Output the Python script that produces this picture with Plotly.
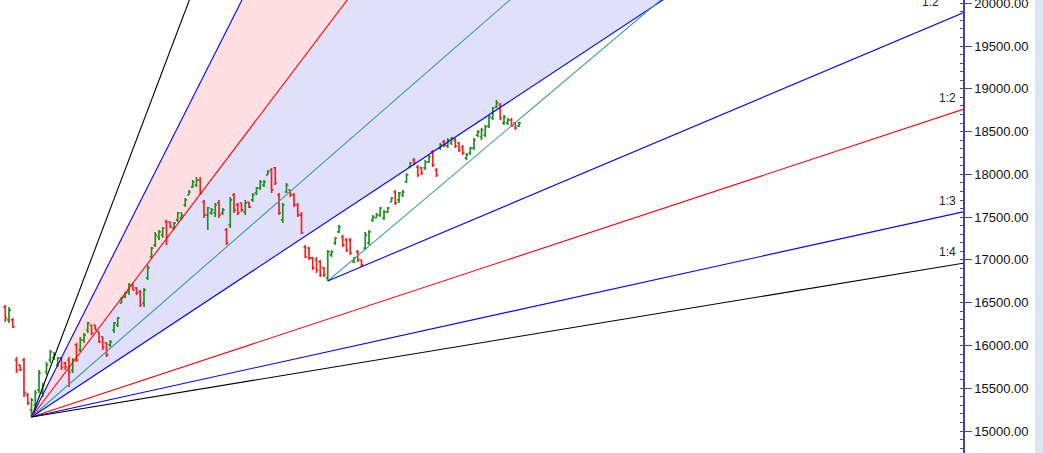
import plotly.graph_objects as go

# ---------------- OHLC data (daily bars, index = bar number) ----------------
bar_open = [16449, 16298, 16298, 15830, 15772, 15830, 15421, 15245, 15304, 15479,
            15444, 15690, 15830, 15854, 15772, 15854, 15795, 15830, 15713, 16006,
            15947, 16064, 16181, 16239, 16239, 16158, 16100, 16029, 16006, 16181,
            16239, 16496, 16567, 16625, 16707, 16672, 16625, 16496, 16789, 17034,
            17174, 17268, 17291, 17444, 17444, 17373, 17467, 17490, 17642, 17759,
            17853, 17876, 17934, 17677, 17525, 17549, 17549, 17666, 17549, 17350,
            17408, 17759, 17642, 17666, 17560, 17677, 17701, 17783, 17841, 17876,
            17993, 18051, 18075, 17759, 17467, 17794, 17818, 17759, 17642, 17525,
            17151, 17139, 17023, 16999, 16976, 16906, 16789, 17058, 17198, 17327,
            17268, 17233, 17233, 16976, 17093, 16999, 17139, 17198, 17467, 17490,
            17525, 17490, 17560, 17677, 17794, 17701, 17759, 17911, 18086, 18168,
            18086, 18075, 18075, 18145, 18262, 18051, 18308, 18379, 18332, 18367,
            18402, 18367, 18320, 18191, 18250, 18308, 18460, 18437, 18460, 18566,
            18659, 18788, 18811, 18601, 18601, 18636, 18601, 18566]
bar_high = [16473, 16449, 16321, 15865, 15772, 15854, 15444, 15386, 15479, 15713,
            15561, 15807, 15947, 15924, 15865, 15865, 15807, 15865, 15854, 16029,
            16100, 16146, 16274, 16239, 16239, 16158, 16100, 16041, 16064, 16274,
            16333, 16567, 16625, 16730, 16730, 16684, 16648, 16672, 16941, 17151,
            17327, 17350, 17385, 17467, 17444, 17444, 17560, 17560, 17724, 17818,
            17934, 17970, 17970, 17701, 17619, 17607, 17666, 17701, 17607, 17373,
            17736, 17783, 17666, 17666, 17701, 17677, 17783, 17853, 17934, 17934,
            18051, 18075, 18086, 17783, 17666, 17899, 17818, 17783, 17666, 17560,
            17174, 17151, 17034, 17034, 16999, 16917, 17116, 17116, 17268, 17408,
            17291, 17256, 17256, 17034, 17116, 16999, 17327, 17350, 17525, 17549,
            17619, 17584, 17619, 17736, 17818, 17794, 17818, 18016, 18145, 18191,
            18110, 18086, 18168, 18227, 18285, 18075, 18367, 18402, 18425, 18437,
            18425, 18379, 18344, 18250, 18320, 18425, 18519, 18542, 18577, 18694,
            18788, 18870, 18835, 18694, 18659, 18659, 18612, 18612]
bar_low = [16274, 16263, 16204, 15678, 15701, 15398, 15304, 15164, 15245, 15444,
           15398, 15655, 15795, 15830, 15748, 15713, 15713, 15515, 15678, 15807,
           15924, 16029, 16146, 16123, 16181, 16029, 15947, 15865, 15982, 16146,
           16216, 16496, 16555, 16590, 16648, 16590, 16449, 16449, 16765, 17023,
           17151, 17233, 17256, 17174, 17373, 17350, 17444, 17467, 17619, 17759,
           17841, 17853, 17759, 17490, 17350, 17525, 17502, 17490, 17525, 17174,
           17373, 17549, 17525, 17560, 17525, 17607, 17677, 17759, 17818, 17853,
           17993, 17783, 17876, 17525, 17432, 17783, 17736, 17619, 17502, 17303,
           17023, 16999, 16882, 16847, 16801, 16801, 16754, 17034, 17174, 17315,
           17151, 17093, 17058, 16964, 16976, 16917, 17116, 17174, 17444, 17490,
           17502, 17467, 17549, 17677, 17642, 17666, 17736, 17899, 18086, 18110,
           17970, 17993, 18051, 18133, 18086, 17970, 18285, 18320, 18308, 18344,
           18308, 18262, 18227, 18168, 18227, 18285, 18437, 18402, 18437, 18542,
           18636, 18776, 18636, 18577, 18577, 18554, 18519, 18554]
bar_close = [16321, 16414, 16216, 15713, 15713, 15444, 15327, 15362, 15444, 15678,
             15538, 15772, 15924, 15889, 15854, 15748, 15748, 15690, 15830, 15830,
             16064, 16123, 16263, 16146, 16181, 16041, 15982, 15889, 16041, 16263,
             16321, 16555, 16613, 16707, 16648, 16613, 16473, 16648, 16906, 17139,
             17291, 17327, 17373, 17268, 17385, 17432, 17549, 17525, 17701, 17794,
             17911, 17934, 17783, 17525, 17607, 17584, 17642, 17525, 17584, 17198,
             17701, 17584, 17549, 17584, 17666, 17619, 17759, 17841, 17911, 17911,
             18028, 17818, 17899, 17549, 17642, 17876, 17759, 17642, 17525, 17315,
             17034, 17023, 16906, 16882, 16824, 16824, 17093, 17093, 17256, 17385,
             17174, 17116, 17081, 17023, 16999, 16941, 17291, 17327, 17502, 17525,
             17607, 17560, 17607, 17724, 17666, 17783, 17794, 17993, 18133, 18133,
             17993, 18016, 18145, 18203, 18110, 17993, 18344, 18344, 18402, 18425,
             18332, 18285, 18250, 18227, 18308, 18402, 18496, 18519, 18554, 18671,
             18776, 18835, 18659, 18671, 18636, 18566, 18542, 18601]
bar_index = list(range(len(bar_close)))

# ---------------- Gann fans ----------------
fan1_origin_bar = 7
fan1_origin_price = 15164
fan1_unit = 28.95            # price per bar of the 1x1 line
fan1_ratios = [4, 3, 2, 1.32, 1, 1 / 2, 1 / 3, 1 / 4]
fan1_colors = ["#000000", "#0000ff", "#ff0000", "#3c9e9e", "#0000ff", "#ff0000", "#0000ff", "#000000"]
fan1_labels = {1 / 2: "1:2", 1 / 3: "1:3", 1 / 4: "1:4"}

fan2_origin_bar = 86
fan2_origin_price = 16754
fan2_unit = 37.0
fan2_ratios = [1, 1 / 2]
fan2_colors = ["#3c9e9e", "#0000ff"]
fan2_labels = {1 / 2: "1:2"}

x_min, x_max = -1.4, 255.4
y_min, y_max = 14742.8, 20038.6
x_far = 257


def fan_y(origin_bar, origin_price, unit, ratio, x):
    return origin_price + unit * ratio * (x - origin_bar)


fig = go.Figure()

# shaded fan zones (between 3x1 & 2x1 pink, between 2x1 & 1x1 lavender), drawn below the bars
zones = [(3, 2, "#ffdee4"), (2, 1, "#e0e0fc")]
for ra, rb, col in zones:
    ya = fan_y(fan1_origin_bar, fan1_origin_price, fan1_unit, ra, x_far)
    yb = fan_y(fan1_origin_bar, fan1_origin_price, fan1_unit, rb, x_far)
    path = (f"M {fan1_origin_bar},{fan1_origin_price} L {x_far},{ya} "
            f"L {x_far},{yb} Z")
    fig.add_shape(type="path", path=path, xref="x", yref="y", fillcolor=col,
                  line=dict(width=0), layer="below")

for ratio, col in zip(fan1_ratios, fan1_colors):
    fig.add_trace(go.Scatter(
        x=[fan1_origin_bar, x_far],
        y=[fan1_origin_price, fan_y(fan1_origin_bar, fan1_origin_price, fan1_unit, ratio, x_far)],
        mode="lines", line=dict(color=col, width=1.1), hoverinfo="skip", showlegend=False))

for ratio, col in zip(fan2_ratios, fan2_colors):
    fig.add_trace(go.Scatter(
        x=[fan2_origin_bar, x_far],
        y=[fan2_origin_price, fan_y(fan2_origin_bar, fan2_origin_price, fan2_unit, ratio, x_far)],
        mode="lines", line=dict(color=col, width=1.1), hoverinfo="skip", showlegend=False))

fig.add_trace(go.Ohlc(
    x=bar_index, open=bar_open, high=bar_high, low=bar_low, close=bar_close,
    increasing=dict(line=dict(color="#1f8f1f", width=1.7)),
    decreasing=dict(line=dict(color="#f52020", width=1.7)),
    tickwidth=0.5, showlegend=False))

label_font = dict(family="Liberation Sans, Arial", size=12, color="#222222")
for ratio, text in fan1_labels.items():
    fig.add_annotation(x=x_max, y=fan_y(fan1_origin_bar, fan1_origin_price, fan1_unit, ratio, x_max),
                       text=text, showarrow=False, xanchor="right", yanchor="bottom",
                       xshift=-5, yshift=2, font=label_font)
for ratio, text in fan2_labels.items():
    fig.add_annotation(x=x_max, y=fan_y(fan2_origin_bar, fan2_origin_price, fan2_unit, ratio, x_max),
                       text=text, showarrow=False, xanchor="right", yanchor="bottom",
                       xshift=-22, yshift=2, font=label_font)

# light blue strip at far right of the window
fig.add_shape(type="rect", xref="paper", yref="paper", x0=1035 / 963, x1=1045 / 963,
              y0=0, y1=1, fillcolor="#dbe5f1", line=dict(width=0), layer="below")

fig.update_layout(
    width=1043, height=453,
    margin=dict(l=0, r=80, t=0, b=0, autoexpand=False),
    paper_bgcolor="white", plot_bgcolor="white",
    xaxis=dict(range=[x_min, x_max], visible=False, rangeslider=dict(visible=False),
               showgrid=False, zeroline=False, automargin=False),
    yaxis=dict(range=[y_min, y_max], side="right", showgrid=False, zeroline=False,
               automargin=False,
               dtick=500, tick0=0, tickformat=".2f", ticklabeloverflow="allow",
               showline=True, linecolor="#4646a0", linewidth=1.5,
               ticks="outside", ticklen=7, tickcolor="#4646a0", tickwidth=1,
               tickfont=dict(family="Liberation Sans, Arial", size=13, color="#111111"),
               minor=dict(dtick=100, ticks="inside", ticklen=3, tickcolor="#4646a0", tickwidth=1)),
    hovermode=False,
)

fig.write_html("out.html", config={"displayModeBar": False},
               post_script="document.body.style.margin='0';document.body.style.overflow='hidden';")
